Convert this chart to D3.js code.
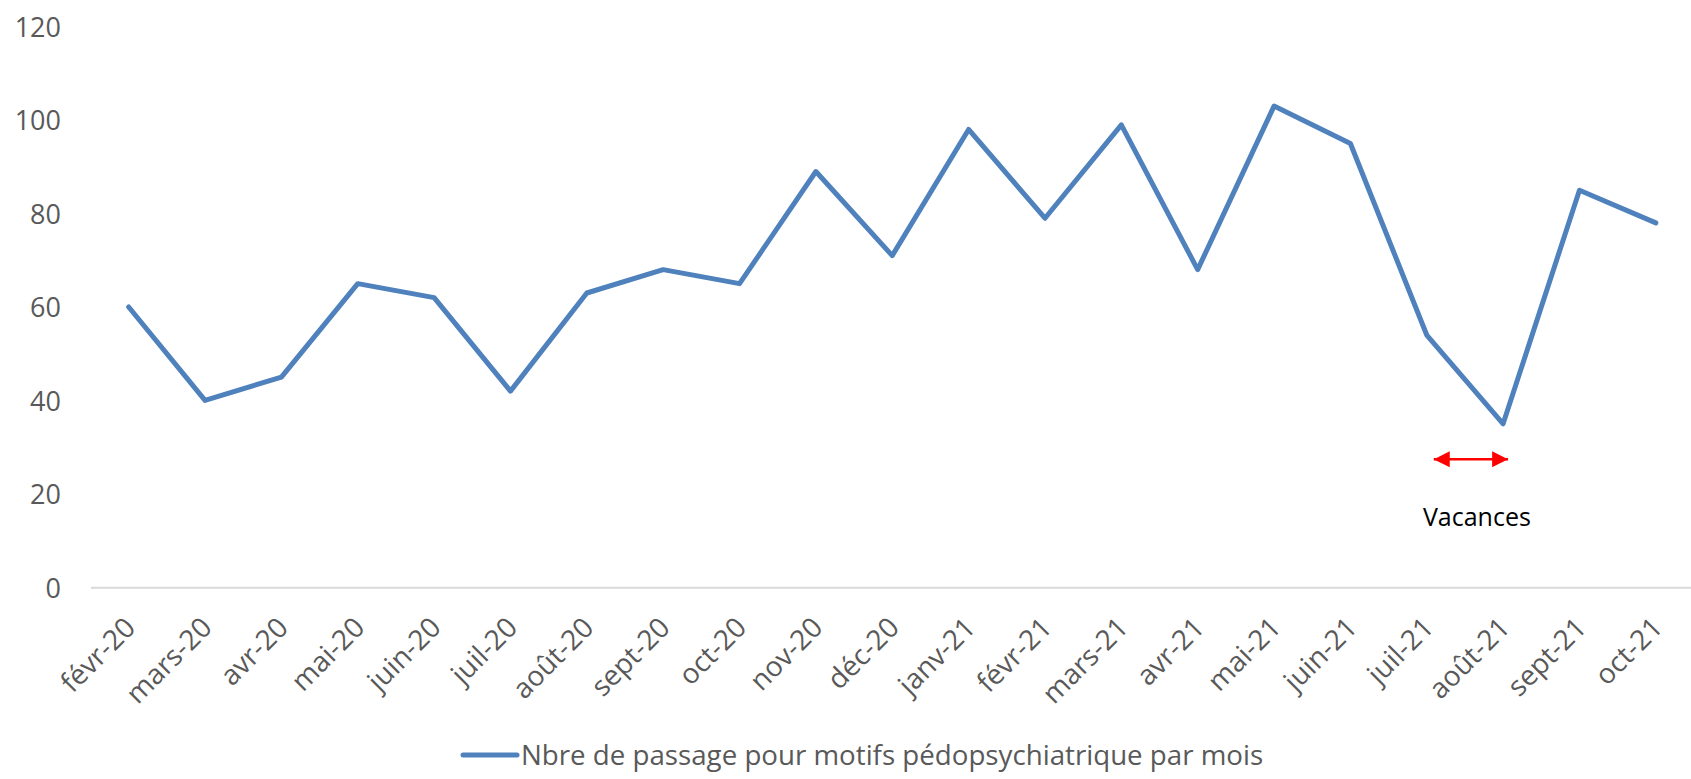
<!DOCTYPE html>
<html>
<head>
<meta charset="utf-8">
<script src="https://cdn.jsdelivr.net/npm/d3@7"></script>
<style>
  body { margin: 0; background: #fff; }
  text { font-family: "Open Sans", sans-serif; }
</style>
</head>
<body>
<div id="chart"></div>
<script>
//month labels
var months = ["févr-20", "mars-20", "avr-20", "mai-20", "juin-20", "juil-20", "août-20", "sept-20", "oct-20",
              "nov-20", "déc-20", "janv-21", "févr-21", "mars-21", "avr-21", "mai-21", "juin-21", "juil-21",
              "août-21", "sept-21", "oct-21"];

//nb of visits per month
var passages = [60, 40, 45, 65, 62, 42, 63, 68, 65, 89, 71, 98, 79, 99, 68, 103, 95, 54, 35, 85, 78];

//y ticks
var yTicks = [0, 20, 40, 60, 80, 100, 120];

var seriesName = "Nbre de passage pour motifs pédopsychiatrique par mois";
var noteText = "Vacances";

//svg size
var svgWidth = 1691;
var svgHeight = 779;

var svg = d3.select("#chart")
    .append("svg")
    .attr("width", svgWidth)
    .attr("height", svgHeight);

//scales
var xScale = d3.scalePoint()
    .domain(months)
    .range([90.5, 1694])
    .padding(0.5);

var yScale = d3.scaleLinear()
    .domain([0, 120])
    .range([587.3, 26.7]);

//y axis labels (no line)
var yAxis = svg.append("g")
    .attr("transform", "translate(61,0)")
    .call(d3.axisLeft(yScale).tickValues(yTicks).tickSize(0).tickPadding(0));
yAxis.select(".domain").remove();
yAxis.selectAll("text")
    .attr("fill", "#595959")
    .style("font-size", "27px")
    .attr("dy", "0.36em");

//x axis
var xAxis = svg.append("g")
    .attr("transform", `translate(0, ${yScale(0)})`)
    .call(d3.axisBottom(xScale).tickSize(0).tickPadding(0));
xAxis.select(".domain")
    .attr("stroke", "#d9d9d9")
    .attr("stroke-width", 2);
xAxis.selectAll("text")
    .attr("fill", "#595959")
    .style("font-size", "28px")
    .attr("text-anchor", "end")
    .attr("dy", null)
    .attr("y", null)
    .attr("transform", "translate(8,42) rotate(-45)");

//line
var line = d3.line()
    .x((d, i) => xScale(months[i]))
    .y(d => yScale(d));

svg.append("path")
    .datum(passages)
    .attr("d", line)
    .attr("fill", "none")
    .attr("stroke", "#4f81bd")
    .attr("stroke-width", 5)
    .attr("stroke-linecap", "round")
    .attr("stroke-linejoin", "round");

//holiday arrow under juil-21 / août-21
var defs = svg.append("defs");
["start", "end"].forEach(function(k){
    defs.append("marker")
        .attr("id", "arrow-" + k)
        .attr("viewBox", "0 0 10 10")
        .attr("refX", 10)
        .attr("refY", 5)
        .attr("markerUnits", "userSpaceOnUse")
        .attr("markerWidth", 16)
        .attr("markerHeight", 17)
        .attr("orient", k == "start" ? "auto-start-reverse" : "auto")
        .append("path")
        .attr("d", "M0,0 L10,5 L0,10 Z")
        .attr("fill", "#ff0000");
});

var arrowY = yScale(27.4);
svg.append("line")
    .attr("x1", xScale("juil-21") + 7)
    .attr("x2", xScale("août-21") + 5)
    .attr("y1", arrowY)
    .attr("y2", arrowY)
    .attr("stroke", "#ff0000")
    .attr("stroke-width", 2.5)
    .attr("marker-start", "url(#arrow-start)")
    .attr("marker-end", "url(#arrow-end)");

svg.append("text")
    .attr("x", (xScale("juil-21") + xScale("août-21")) / 2 + 12)
    .attr("y", 526)
    .attr("text-anchor", "middle")
    .attr("fill", "#000")
    .style("font-size", "25px")
    .text(noteText);

//legend
var legend = svg.append("g");
legend.append("line")
    .attr("x1", 463).attr("x2", 517)
    .attr("y1", 755).attr("y2", 755)
    .attr("stroke", "#4f81bd")
    .attr("stroke-width", 5)
    .attr("stroke-linecap", "round");
legend.append("text")
    .attr("x", 521)
    .attr("y", 755)
    .attr("dy", "0.36em")
    .attr("fill", "#595959")
    .style("font-size", "27.7px")
    .text(seriesName);
</script>
</body>
</html>
